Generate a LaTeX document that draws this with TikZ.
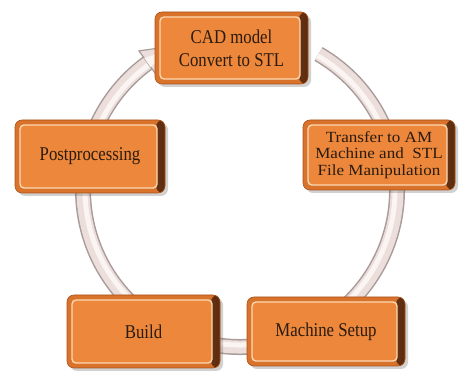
\documentclass[tikz,border=0pt]{standalone}
\usepackage{fontspec}
\setmainfont{Liberation Serif}
\newfontfamily\narrowserif[FakeStretch=0.86]{Liberation Serif}
\newfontfamily\wideserif[FakeStretch=1.1]{Liberation Serif}
\usetikzlibrary{shadows}
\definecolor{boxouter}{HTML}{D9732C}
\definecolor{boxrim}{HTML}{A9531A}
\definecolor{boxshade}{HTML}{5C2C10}
\definecolor{boxlight}{HTML}{FAD8B2}
\definecolor{boxface}{HTML}{EC873C}
\definecolor{boxtext}{HTML}{2B1B0E}
\definecolor{ringedge}{HTML}{A89B99}
\definecolor{ringmid}{HTML}{ECDEDB}
\definecolor{ringhi}{HTML}{FAF4F2}
\tikzset{
  orbox/.style={rectangle, rounded corners=7pt, draw=boxrim, line width=0.6pt,
    fill=boxouter, inner sep=0pt, align=center, text=boxtext,
    font=\narrowserif\fontsize{19.5}{23}\selectfont,
    drop shadow={shadow xshift=3pt, shadow yshift=-3pt, opacity=0.3, fill=black!60},
    path picture={
      \shade[left color=boxouter, right color=boxshade]
        ([xshift=-9pt]path picture bounding box.south east) rectangle
        (path picture bounding box.north east);
      \filldraw[fill=boxface, draw=boxlight, line width=1.4pt, rounded corners=4pt]
        ([shift={(5pt,5pt)}]path picture bounding box.south west) rectangle
        ([shift={(-8pt,-5pt)}]path picture bounding box.north east);
    }},
  ringedgeline/.style={draw=ringedge, line width=16pt},
  ringmidline/.style={draw=ringmid, line width=13pt},
  ringhiline/.style={draw=ringhi, line width=5pt}
}
\begin{document}
\begin{tikzpicture}[x=1pt,y=1pt]
\useasboundingbox (0,0) rectangle (462,371);
% ring
\coordinate (rc) at (240,181);
\begin{scope}[shift={(rc)}]
  \draw[ringedgeline] (60:157) arc[start angle=60, end angle=-234, radius=157];
  \draw[ringmidline] (60:157) arc[start angle=60, end angle=-234, radius=157];
  \draw[ringhiline] (60:155) arc[start angle=60, end angle=-234, radius=155];
  \coordinate (tipA) at (126:172);
  \coordinate (tipB) at (126:142);
  \coordinate (tipC) at (113:157);
  \filldraw[fill=ringmid, draw=ringedge, line width=1.2pt, line join=round] (tipA) -- (tipC) -- (tipB) -- cycle;
  \fill[ringhi] (126:163) -- (116:157) -- (126:152) -- cycle;
\end{scope}
% boxes
\node[orbox, minimum width=153pt, minimum height=72pt] (cad) at (231.5,323) {CAD model\\Convert to STL};
\node[orbox, minimum width=152pt, minimum height=70pt, font=\wideserif\fontsize{15.5}{16.7}\selectfont] (transfer) at (379,216) {Transfer to AM\\Machine and \ STL\\File Manipulation};
\node[orbox, minimum width=158pt, minimum height=69pt] (setup) at (326,39.5) {Machine Setup};
\node[orbox, minimum width=153pt, minimum height=73pt] (build) at (143.5,39.5) {Build};
\node[orbox, minimum width=150pt, minimum height=73pt] (post) at (90,214.5) {Postprocessing};
\end{tikzpicture}
\end{document}
